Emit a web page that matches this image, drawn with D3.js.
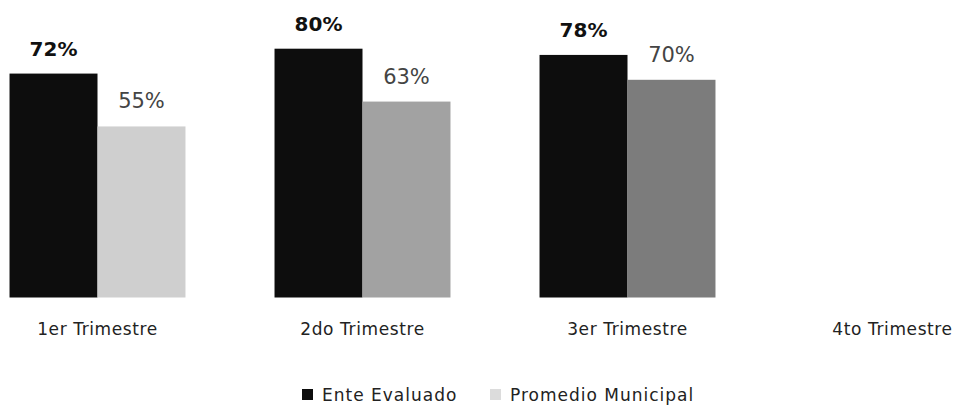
<!DOCTYPE html>
<meta charset="utf-8">
<style>
body { margin: 0; background: #fff; }
svg { font-family: "DejaVu Sans", sans-serif; }
.axis text { font-size: 17px; letter-spacing: 0.6px; fill: #222; }
.val-main { font-size: 20px; font-weight: bold; fill: #111; }
.val-prom { font-size: 21px; fill: #444; }
.legend text { font-size: 17px; letter-spacing: 1px; fill: #222; }
</style>
<body>
<svg width="962" height="405"></svg>
<script src="https://cdnjs.cloudflare.com/ajax/libs/d3/7.8.5/d3.min.js"></script>
<script>

// data
var trimestres = ["1er Trimestre", "2do Trimestre", "3er Trimestre", "4to Trimestre"];
var series = ["Ente Evaluado", "Promedio Municipal"];
var enteEvaluado = [72, 80, 78, null];
var promedioMunicipal = [55, 63, 70, null];

// gray shade for each Promedio bar (the picture is dithered)
var promShades = ["#cfcfcf", "#a2a2a2", "#7c7c7c"];
var mainColor = "#0d0d0d";

var svg = d3.select("svg");
var bottom = 297.5;

var x0 = d3.scaleBand()
    .domain(trimestres)
    .range([-35, 1025])
    .paddingInner(0.336)
    .paddingOuter(0.168);

var x1 = d3.scaleBand()
    .domain(series)
    .range([0, x0.bandwidth()]);

var y = d3.scaleLinear()
    .domain([0, 100])
    .range([bottom, -13.5]);

var rows = trimestres.map(function(t, i) {
  return {t: t, i: i, vals: [enteEvaluado[i], promedioMunicipal[i]]};
});

var g = svg.selectAll("g.grp")
  .data(rows)
  .enter().append("g")
    .attr("class", "grp")
    .attr("transform", function(d) { return "translate(" + x0(d.t) + ",0)"; });

g.selectAll("rect")
  .data(function(d) {
    return d.vals.map(function(v, k) { return {s: series[k], v: v, i: d.i}; })
      .filter(function(e) { return e.v != null; });
  })
  .enter().append("rect")
    .attr("x", function(d) { return x1(d.s); })
    .attr("y", function(d) { return y(d.v); })
    .attr("width", x1.bandwidth())
    .attr("height", function(d) { return bottom - y(d.v); })
    .attr("fill", function(d) { return d.s == series[0] ? mainColor : promShades[d.i]; });

g.selectAll("text.val")
  .data(function(d) {
    return d.vals.map(function(v, k) { return {s: series[k], v: v}; })
      .filter(function(e) { return e.v != null; });
  })
  .enter().append("text")
    .attr("class", function(d) { return d.s == series[0] ? "val val-main" : "val val-prom"; })
    .attr("x", function(d) { return x1(d.s) + x1.bandwidth() / 2; })
    .attr("y", function(d) { return y(d.v) - 18; })
    .attr("text-anchor", "middle")
    .text(function(d) { return d.v + "%"; });

// category axis, no lines
var axis = svg.append("g")
    .attr("class", "axis")
    .attr("transform", "translate(0," + bottom + ")")
    .call(d3.axisBottom(x0).tickSize(0).tickPadding(25));
axis.attr("font-family", null).attr("font-size", null);
axis.select(".domain").remove();

// legend
var legend = svg.append("g").attr("class", "legend");
var legX = [302, 490];
var legColors = [mainColor, "#dcdcdc"];
series.forEach(function(s, k) {
  legend.append("rect")
    .attr("x", legX[k]).attr("y", 389)
    .attr("width", 11).attr("height", 11)
    .attr("fill", legColors[k]);
  legend.append("text")
    .attr("x", legX[k] + 20).attr("y", 401)
    .text(s);
});

</script>
</body>
